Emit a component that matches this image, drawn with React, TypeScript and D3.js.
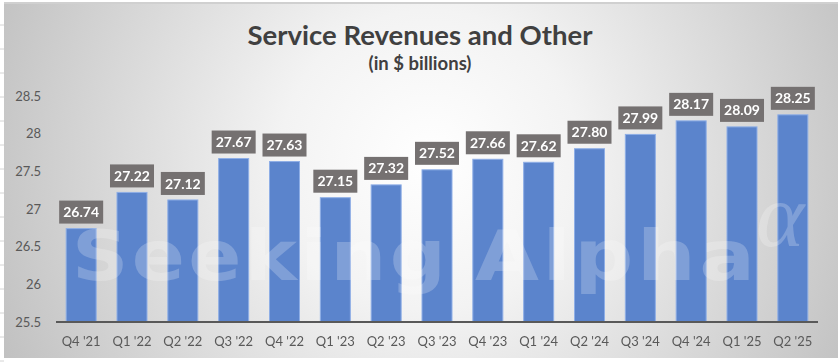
import React from 'react';
import * as d3 from 'd3';

const quarters = ["Q4 '21", "Q1 '22", "Q2 '22", "Q3 '22", "Q4 '22", "Q1 '23", "Q2 '23", "Q3 '23", "Q4 '23", "Q1 '24", "Q2 '24", "Q3 '24", "Q4 '24", "Q1 '25", "Q2 '25"];
const revenues = [26.74, 27.22, 27.12, 27.67, 27.63, 27.15, 27.32, 27.52, 27.66, 27.62, 27.8, 27.99, 28.17, 28.09, 28.25];
const yTicks = [25.5, 26, 26.5, 27, 27.5, 28, 28.5];

const W = 838;
const H = 362;
const FONT = 'Lato, "Open Sans", sans-serif';

const App = () => {
  // plot area
  const left = 56;
  const right = 818;
  const top = 96;
  const bottom = 322;

  const x = d3.scaleBand().domain(quarters).range([left, right]).paddingInner(0.41).paddingOuter(0.2);
  const y = d3.scaleLinear().domain([25.5, 28.5]).range([bottom, top]);

  const boxW = 44;
  const boxH = 23;

  return (
    <svg width={W} height={H} style={{ position: 'fixed', left: 0, top: 0, display: 'block' }}>
      <defs>
        <radialGradient id="bg" gradientUnits="userSpaceOnUse" cx={430} cy={160} r={500}>
          <stop offset="0" stopColor="#ffffff" />
          <stop offset="0.3" stopColor="#f3f3f3" />
          <stop offset="1" stopColor="#bcbcbc" />
        </radialGradient>
      </defs>

      {/* spreadsheet behind the chart */}
      <rect x={0} y={0} width={W} height={H} fill="#ffffff" />
      {d3.range(25, H, 24).map((yy) => (
        <line key={yy} x1={0} x2={4} y1={yy} y2={yy} stroke="#d4d4d4" />
      ))}

      {/* chart area */}
      <rect x={4} y={3} width={W - 4} height={355} fill="url(#bg)" />
      <line x1={4} x2={W} y1={3} y2={3} stroke="#d0d0d0" strokeWidth={2} />

      {/* title */}
      <text x={420} y={45} textAnchor="middle" fontFamily={FONT} fontWeight="bold" fontSize={27.5} fill="#404040">
        Service Revenues and Other
      </text>
      <text x={420} y={70} textAnchor="middle" fontFamily={FONT} fontWeight="bold" fontSize={18.5} fill="#404040">
        (in $ billions)
      </text>

      {/* y tick labels */}
      {yTicks.map((t) => (
        <text key={t} x={41} y={y(t)} dy="0.35em" textAnchor="end" fontFamily={FONT} fontSize={13} fill="#595959">
          {String(t)}
        </text>
      ))}

      {/* bars */}
      {revenues.map((v, i) => (
        <rect
          key={quarters[i]}
          x={x(quarters[i])}
          y={y(v)}
          width={x.bandwidth()}
          height={bottom - y(v)}
          fill="#5b84cc"
          stroke="#8eaee6"
          strokeWidth={1}
        />
      ))}

      {/* watermark */}
      <g fill="#ffffff" opacity={0.22} fontFamily='"DejaVu Sans", sans-serif' fontWeight="bold" fontSize={70}>
        <text transform="translate(72,280) scale(1.12,1)" x={0} y={0} letterSpacing={3}>Seeking</text>
        <text transform="translate(475,280) scale(1.18,1)" x={0} y={0} letterSpacing={3}>Alpha</text>
        <text x={756} y={246} fontFamily='"Liberation Serif", serif' fontStyle="italic" fontWeight="normal" fontSize={92}>α</text>
      </g>

      {/* axis line */}
      <line x1={left} x2={right} y1={bottom} y2={bottom} stroke="#595959" strokeWidth={2} />

      {/* x labels */}
      {quarters.map((q) => (
        <text key={q} x={x(q) + x.bandwidth() / 2} y={346} textAnchor="middle" fontFamily={FONT} fontSize={13} fill="#595959">
          {q}
        </text>
      ))}

      {/* value labels */}
      {revenues.map((v, i) => {
        const cx = x(quarters[i]) + x.bandwidth() / 2;
        const by = y(v) - 5 - boxH;
        return (
          <g key={'l' + i}>
            <rect x={cx - boxW / 2} y={by} width={boxW} height={boxH} fill="#757171" />
            <text x={cx} y={by + boxH / 2} dy="0.36em" textAnchor="middle" fontFamily={FONT} fontWeight="bold" fontSize={14} fill="#ffffff">
              {v.toFixed(2)}
            </text>
          </g>
        );
      })}
    </svg>
  );
};

export default App;
